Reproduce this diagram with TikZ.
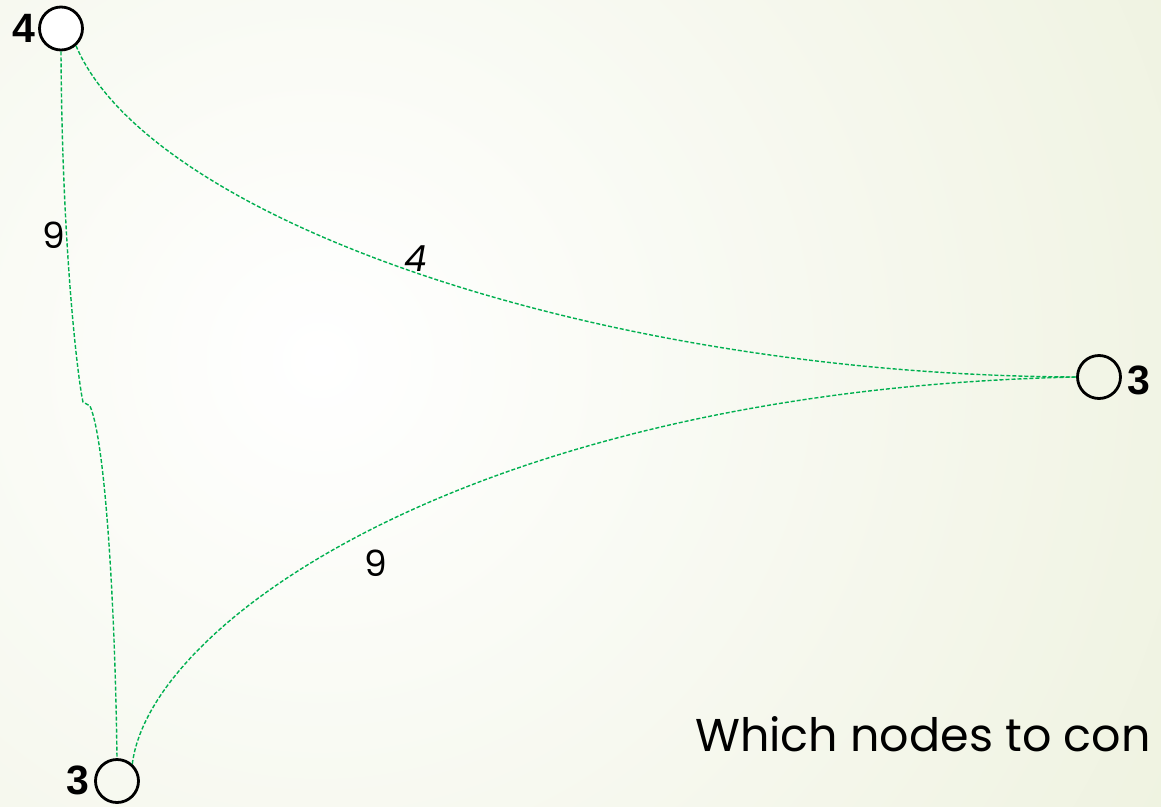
\documentclass[tikz,border=0pt]{standalone}
\usepackage{fontspec}
\setmainfont{Poppins}
\newfontfamily\labfont{Liberation Sans}
\definecolor{edgegreen}{HTML}{00B050}
\definecolor{bgouter}{HTML}{E2E8C8}
\begin{document}
\begin{tikzpicture}[x=1pt,y=-1pt,
  vert/.style={circle,draw=black,line width=2.8pt,minimum size=43pt,inner sep=0pt},
  vlabel/.style={inner sep=0pt,font=\labfont\bfseries\fontsize{41}{46}\selectfont},
  elabel/.style={inner sep=0pt,font=\fontsize{36}{40}\selectfont},
  edge/.style={draw=edgegreen,line width=1.4pt,dash pattern=on 4pt off 2pt}]
\useasboundingbox (0,0) rectangle (1161,806);
\begin{scope}
\clip (0,0) rectangle (1161,806);
\shade[inner color=white,outer color=bgouter] (320,360) circle (1750);
\end{scope}
% vertices
\node[vert,fill=white] (n4) at (61,28.5) {};
\node[vert] (n3r) at (1099,377) {};
\node[vert] (n3b) at (117,781) {};
\node[vlabel] (l4) at (24,28) {4};
\node[vlabel] (l3r) at (1139,380) {3};
\node[vlabel] (l3b) at (78,780) {3};
% kink on the left edge
\coordinate (k1) at (83,402);
\coordinate (k2) at (90,406);
% edges
\draw[edge] (n4.-49) .. controls (150,220) and (600,375) .. (n3r.west);
\draw[edge] (n3b.48) .. controls (150,620) and (480,390) .. (n3r.west);
\draw[edge] (n4.south) .. controls (62,250) and (78,380) .. (k1) -- (k2) .. controls (105,440) and (115,600) .. (n3b.north);
% edge labels
\node[elabel] (w1) at (54,235) {9};
\node[elabel] (w2) at (416,259) {\itshape 4};
\node[elabel] (w3) at (376,563) {9};
% question
\node[anchor=base west,inner sep=0pt,font=\fontsize{46}{52}\selectfont] (q) at (695,751) {Which nodes to con};
\end{tikzpicture}
\end{document}
